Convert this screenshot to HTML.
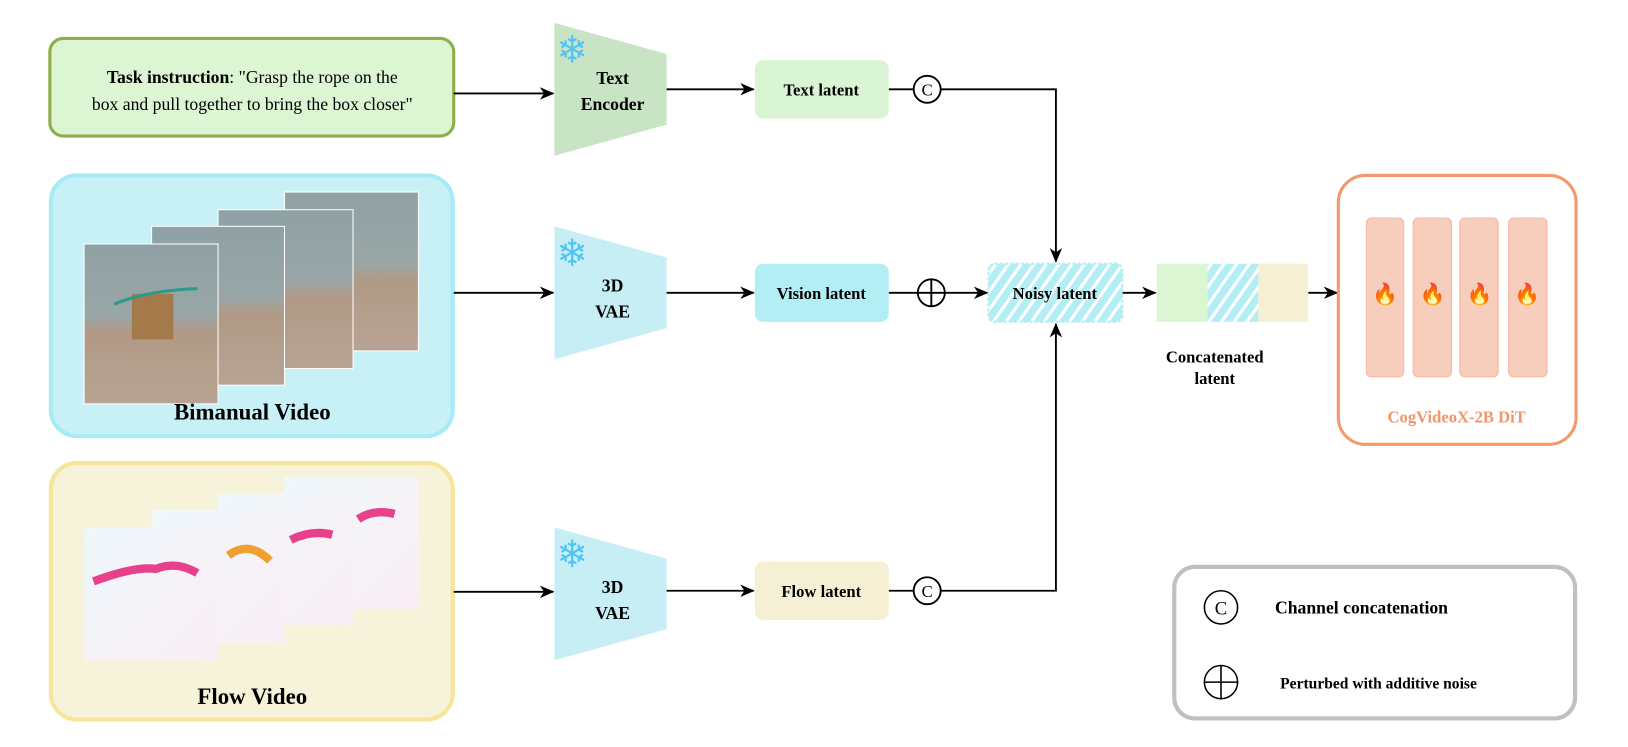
<!DOCTYPE html>
<html><head><meta charset="utf-8"><style>body{margin:0;background:#fff}svg{display:block}text{font-family:"Liberation Serif",serif;font-weight:bold}</style></head><body>
<svg width="1628" height="747" viewBox="0 0 1568 719.5" preserveAspectRatio="none" xmlns="http://www.w3.org/2000/svg">
<defs>
<marker id="a" markerWidth="14" markerHeight="12" refX="13" refY="6" orient="auto" markerUnits="userSpaceOnUse"><path d="M0,0 L14,6 L0,12 L4,6z" fill="#000"/></marker>
<pattern id="h" width="10" height="10" patternUnits="userSpaceOnUse" patternTransform="rotate(35)"><rect width="10" height="10" fill="#b3eef5"/><rect width="3" height="10" fill="#fff"/></pattern>
<linearGradient id="rb" x1="0" y1="0" x2="0" y2="1"><stop offset="0" stop-color="#8fa1a5"/><stop offset="0.45" stop-color="#9aa6a6"/><stop offset="0.55" stop-color="#b09a86"/><stop offset="1" stop-color="#b8a293"/></linearGradient>
<linearGradient id="fl" x1="0" y1="0" x2="1" y2="1"><stop offset="0" stop-color="#eef8fb"/><stop offset="1" stop-color="#fbeef6"/></linearGradient>
</defs>
<rect x="48" y="37" width="389" height="94" rx="13" fill="#dcf5d3" stroke="#8fae4a" stroke-width="3"/>
<text x="243" y="80" font-size="17" text-anchor="middle"><tspan>Task instruction</tspan><tspan style="font-weight:normal">: "Grasp the rope on the</tspan></text>
<text x="243" y="106" font-size="17" text-anchor="middle" style="font-weight:normal">box and pull together to bring the box closer"</text>
<rect x="49" y="169" width="387" height="251" rx="25" fill="#c7f1f6" stroke="#a8ebf6" stroke-width="4"/>
<g stroke="#fff" stroke-width="1">
<rect x="274" y="185" width="129" height="153" fill="url(#rb)"/>
<rect x="210" y="202" width="130" height="153" fill="url(#rb)"/>
<rect x="146" y="218" width="128" height="153" fill="url(#rb)"/>
<rect x="81" y="235" width="129" height="154" fill="url(#rb)"/>
</g>
<rect x="127" y="283" width="40" height="44" fill="#a57a4a"/>
<path d="M110,293 Q140,280 190,278" stroke="#2a9a8a" stroke-width="3" fill="none"/>
<text x="243" y="404" font-size="22" text-anchor="middle">Bimanual Video</text>
<rect x="49" y="446" width="387" height="247" rx="25" fill="#f6f3da" stroke="#f5e69a" stroke-width="4"/>
<rect x="274" y="459" width="129" height="128" fill="url(#fl)"/>
<rect x="210" y="475" width="130" height="128" fill="url(#fl)"/>
<rect x="146" y="491" width="128" height="129" fill="url(#fl)"/>
<rect x="81" y="508" width="129" height="128" fill="url(#fl)"/>
<path d="M90,560 Q130,545 150,548 Q170,540 190,552 M345,500 Q360,490 380,495 M280,520 Q300,510 320,515" stroke="#e8408a" stroke-width="8" fill="none"/>
<path d="M220,535 Q240,520 260,540" stroke="#f0a030" stroke-width="8" fill="none"/>
<text x="243" y="678" font-size="22" text-anchor="middle">Flow Video</text>
<path d="M534,22 L642,52 L642,120 L534,150z" fill="#c9e4c5"/>
<path d="M534,218 L642,248 L642,316 L534,346z" fill="#c7eef5"/>
<path d="M534,508 L642,538 L642,606 L534,636z" fill="#c7eef5"/>
<g font-size="36" fill="#4fc4f5"><text x="536" y="60" style="font-weight:normal">❄</text><text x="536" y="256" style="font-weight:normal">❄</text><text x="536" y="546" style="font-weight:normal">❄</text></g>
<text x="590" y="81" font-size="17" text-anchor="middle">Text</text>
<text x="590" y="106" font-size="17" text-anchor="middle">Encoder</text>
<text x="590" y="281" font-size="17" text-anchor="middle">3D</text>
<text x="590" y="306" font-size="17" text-anchor="middle">VAE</text>
<text x="590" y="571" font-size="17" text-anchor="middle">3D</text>
<text x="590" y="596" font-size="17" text-anchor="middle">VAE</text>
<g stroke="#000" stroke-width="1.8" fill="none">
<line x1="437" y1="90" x2="533" y2="90" marker-end="url(#a)"/>
<line x1="437" y1="282" x2="533" y2="282" marker-end="url(#a)"/>
<line x1="437" y1="570" x2="533" y2="570" marker-end="url(#a)"/>
<line x1="642" y1="86" x2="726" y2="86" marker-end="url(#a)"/>
<line x1="642" y1="282" x2="726" y2="282" marker-end="url(#a)"/>
<line x1="642" y1="569" x2="726" y2="569" marker-end="url(#a)"/>
<line x1="856" y1="86" x2="880" y2="86"/>
<polyline points="906,86 1017,86 1017,252" marker-end="url(#a)"/>
<line x1="856" y1="282" x2="884" y2="282"/>
<line x1="910" y1="282" x2="951" y2="282" marker-end="url(#a)"/>
<line x1="856" y1="569" x2="880" y2="569"/>
<polyline points="906,569 1017,569 1017,312" marker-end="url(#a)"/>
<line x1="1081" y1="282" x2="1113" y2="282" marker-end="url(#a)"/>
<line x1="1260" y1="282" x2="1288" y2="282" marker-end="url(#a)"/>
<circle cx="893" cy="86" r="13"/>
<circle cx="897" cy="282" r="13"/><line x1="884" y1="282" x2="910" y2="282"/><line x1="897" y1="269" x2="897" y2="295"/>
<circle cx="893" cy="569" r="13"/>
</g>
<text x="893" y="92" font-size="16" text-anchor="middle" style="font-weight:normal">C</text>
<text x="893" y="575" font-size="16" text-anchor="middle" style="font-weight:normal">C</text>
<rect x="727" y="58" width="129" height="56" rx="8" fill="#d9f5d3"/>
<rect x="727" y="254" width="129" height="56" rx="8" fill="#b3eef5"/>
<rect x="727" y="541" width="129" height="56" rx="8" fill="#f5f0d3"/>
<text x="791" y="92" font-size="16" text-anchor="middle">Text latent</text>
<text x="791" y="288" font-size="16" text-anchor="middle">Vision latent</text>
<text x="791" y="575" font-size="16" text-anchor="middle">Flow latent</text>
<rect x="952" y="254" width="129" height="56" rx="6" fill="url(#h)" stroke="#b3eef5" stroke-dasharray="3 2" stroke-width="2"/>
<text x="1016" y="288" font-size="16" text-anchor="middle">Noisy latent</text>
<rect x="1114" y="254" width="49" height="56" fill="#dcf5d3"/>
<rect x="1163" y="254" width="49" height="56" fill="url(#h)"/>
<rect x="1212" y="254" width="48" height="56" fill="#f5f0d3"/>
<text x="1170" y="349" font-size="16" text-anchor="middle">Concatenated</text>
<text x="1170" y="370" font-size="16" text-anchor="middle">latent</text>
<rect x="1289" y="169" width="229" height="259" rx="26" fill="#fff" stroke="#f09a6e" stroke-width="3"/>
<g fill="#f7cdbb" stroke="#f5b9a3"><rect x="1316" y="210" width="36" height="153" rx="5"/><rect x="1361" y="210" width="37" height="153" rx="5"/><rect x="1406" y="210" width="37" height="153" rx="5"/><rect x="1453" y="210" width="37" height="153" rx="5"/></g>
<g font-size="20" text-anchor="middle"><text x="1334" y="290" style="font-weight:normal">🔥</text><text x="1380" y="290" style="font-weight:normal">🔥</text><text x="1425" y="290" style="font-weight:normal">🔥</text><text x="1471" y="290" style="font-weight:normal">🔥</text></g>
<text x="1403" y="407" font-size="16" text-anchor="middle" fill="#f0966a">CogVideoX-2B DiT</text>
<rect x="1131" y="546" width="386" height="146" rx="20" fill="#fff" stroke="#c0c0c0" stroke-width="4"/>
<circle cx="1176" cy="585" r="16" fill="none" stroke="#000" stroke-width="1.5"/>
<text x="1176" y="592" font-size="18" text-anchor="middle" style="font-weight:normal">C</text>
<text x="1228" y="591" font-size="17">Channel concatenation</text>
<circle cx="1176" cy="657" r="16" fill="none" stroke="#000" stroke-width="1.5"/>
<line x1="1160" y1="657" x2="1192" y2="657" stroke="#000" stroke-width="1.5"/><line x1="1176" y1="641" x2="1176" y2="673" stroke="#000" stroke-width="1.5"/>
<text x="1233" y="663" font-size="15">Perturbed with additive noise</text>
</svg>
</body></html>
